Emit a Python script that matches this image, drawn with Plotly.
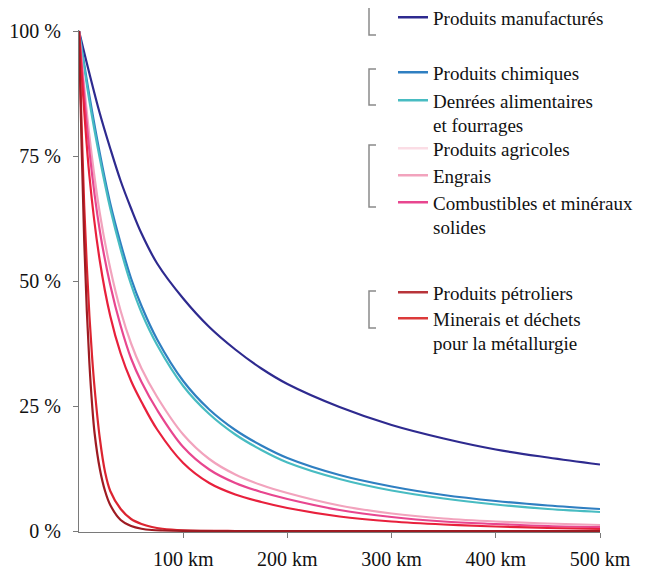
import plotly.graph_objects as go

# distance grids (km)
km_main = [0, 10, 20, 30, 40, 50, 60, 75, 100, 125, 150, 175, 200, 250, 300, 350, 400, 450, 500]
km_steep = [0, 2.5, 5, 7.5, 10, 12.5, 15, 20, 25, 30, 40, 50, 60, 70, 80, 100, 150, 200, 300, 400, 500]

# share of tonnage still transported beyond each distance (%)
manufactures = [100, 91.5, 83.5, 76.5, 70, 64.5, 59.5, 53.5, 46.5, 40.8, 36.3, 32.5, 29.4,
                24.8, 21.2, 18.5, 16.3, 14.7, 13.3]
chimiques = [100, 87, 75.5, 65.5, 57.5, 50.5, 45, 38.3, 30, 24.3, 20.2, 17.1, 14.6,
             11.2, 8.9, 7.2, 6.0, 5.1, 4.4]
denrees = [100, 86, 74.5, 64.5, 56.3, 49.3, 43.7, 37.2, 29, 23.4, 19.3, 16.2, 13.7,
           10.4, 8.1, 6.5, 5.3, 4.4, 3.8]
agricoles = [100, 71, 54, 43, 35.5, 30, 25.8, 20.3, 13.6, 9.6, 7.3, 5.8, 4.6,
             2.9, 1.9, 1.3, 0.9, 0.6, 0.4]
engrais = [100, 79, 63.5, 52.5, 44, 37.5, 32.5, 26.8, 19.3, 14.4, 11.3, 9.2, 7.6,
           5.1, 3.5, 2.5, 1.9, 1.5, 1.2]
combustibles = [100, 76, 60, 49.2, 41, 34.5, 29.8, 24.2, 16.8, 12.3, 9.6, 7.8, 6.4,
                4.2, 2.8, 1.9, 1.4, 1.0, 0.8]
petroliers = [100, 77, 58, 44, 33.5, 25.5, 19.5, 12.4, 8, 5.2, 2.2, 1.0, 0.45, 0.2, 0.1,
              0.02, 0, 0, 0, 0, 0]
minerais = [100, 81, 65, 53, 43, 35, 28.5, 18.5, 11.8, 8.0, 4.4, 2.4, 1.4, 0.8, 0.45,
            0.15, 0, 0, 0, 0, 0]

x_tickvals = [100, 200, 300, 400, 500]
x_ticktext = ["100 km", "200 km", "300 km", "400 km", "500 km"]
y_tickvals = [0, 25, 50, 75, 100]
y_ticktext = ["0 %", "25 %", "50 %", "75 %", "100 %"]

FONT = "Liberation Serif"
FS_TICK = 20
FS_LEG = 19

series = [
    # name, x, values, curve colour, legend colour, legend id
    ("Produits manufacturés", km_main, manufactures, "#2e2a8f", "#2e2a8f", "legend"),
    ("Produits chimiques", km_main, chimiques, "#2f7fc1", "#2f7fc1", "legend2"),
    ("Denrées alimentaires<br>et fourrages", km_main, denrees, "#48bcc2", "#48bcc2", "legend3"),
    ("Produits agricoles", km_main, agricoles, "#e8203c", "#fbdde5", "legend4"),
    ("Engrais", km_main, engrais, "#f2a3bd", "#f2a3bd", "legend5"),
    ("Combustibles et minéraux<br>solides", km_main, combustibles, "#e8468f", "#e8468f", "legend6"),
    ("Produits pétroliers", km_steep, petroliers, "#9e1b22", "#b8343a", "legend7"),
    ("Minerais et déchets<br>pour la métallurgie", km_steep, minerais, "#dc2430", "#dc3a3a", "legend8"),
]

fig = go.Figure()
draw_order = [0, 1, 2, 4, 5, 3, 7, 6]
for i in draw_order:
    name, xs, vals, col, lcol, lg = series[i]
    fig.add_trace(go.Scatter(x=xs, y=vals, mode="lines",
                             line=dict(color=col, width=2.2, shape="spline", smoothing=1.0),
                             name=name, showlegend=False, hoverinfo="skip"))

# plot area in window pixels (page body has an 8 px margin)
W, H = 521.0, 502.0
L, T = 79.0, 30.0
def px2paper(px, py):
    return (px - L) / W, (T + H - py) / H

legend_centers = [17, 72, 100, 148, 175, 202, 292, 318]
layout_legends = {}
for (name, xs, vals, col, lcol, lg), cy in zip(series, legend_centers):
    fig.add_trace(go.Scatter(x=[None], y=[None], mode="lines", line=dict(color=lcol, width=2.5),
                             name=name, legend=lg, showlegend=True))
    lx, ly = px2paper(393, cy - 18.5)
    layout_legends[lg] = dict(x=lx, y=ly, xanchor="left", yanchor="top", valign="top",
                              bgcolor="rgba(0,0,0,0)", font=dict(family=FONT, size=FS_LEG, color="#111"),
                              itemwidth=30, tracegroupgap=0)

# brackets grouping the legend entries
brackets = [(5, 35), (69, 105), (145, 207), (291, 328)]
shapes = []
for (y0, y1) in brackets:
    xa, ya = px2paper(369, y0)
    xb, yb = px2paper(376, y1)
    shapes.append(dict(type="path", xref="paper", yref="paper",
                       path=f"M {xb} {ya} L {xa} {ya} L {xa} {yb} L {xb} {yb}",
                       line=dict(color="#8a8a8a", width=1.5)))

fig.update_layout(
    width=658, height=563,
    margin=dict(l=71, r=66, t=22, b=39, autoexpand=False),
    paper_bgcolor="white", plot_bgcolor="white",
    font=dict(family=FONT, size=FS_TICK, color="#111"),
    shapes=shapes,
    **layout_legends,
)
fig.update_xaxes(range=[0, 500], tickvals=x_tickvals, ticktext=x_ticktext, showgrid=False, zeroline=False,
                 showline=True, linecolor="#7a7a7a", linewidth=1, ticks="outside", ticklen=5,
                 tickcolor="#7a7a7a", ticklabelstandoff=4, automargin=False,
                 tickfont=dict(family=FONT, size=FS_TICK, color="#111"))
fig.update_yaxes(range=[-0.2, 100.2], tickvals=y_tickvals, ticktext=y_ticktext, showgrid=False, zeroline=False,
                 showline=True, linecolor="#7a7a7a", linewidth=1, ticks="outside", ticklen=5,
                 tickcolor="#7a7a7a", ticklabelstandoff=8, automargin=False,
                 tickfont=dict(family=FONT, size=FS_TICK, color="#111"))

fig.write_html("out.html")
